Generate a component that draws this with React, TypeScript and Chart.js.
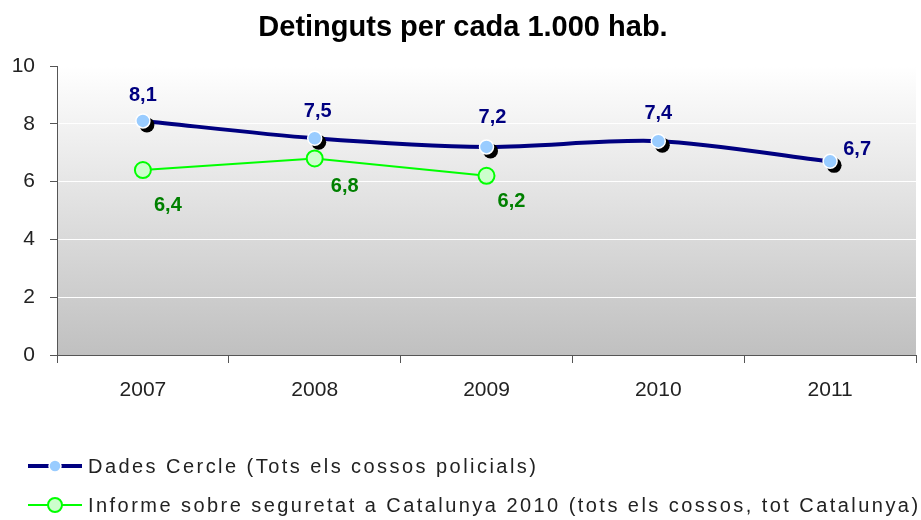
import { useEffect, useRef } from 'react';
import { Chart, registerables } from 'chart.js';
Chart.register(...registerables);

const categories = ['2007', '2008', '2009', '2010', '2011'];
const dadesCercle = [8.1, 7.5, 7.2, 7.4, 6.7];
const informeSeguretat = [6.4, 6.8, 6.2, null, null];
const yTicks = [0, 2, 4, 6, 8, 10];
const titleText = 'Detinguts per cada 1.000 hab.';
const legendLabels = [
  'Dades Cercle (Tots els cossos policials)',
  'Informe sobre seguretat a Catalunya 2010 (tots els cossos, tot Catalunya)',
];

const FONT = "'Liberation Sans', Arial, sans-serif";
const NAVY = '#000080';
const LIME = '#00ff00';

// label offsets (style): dx, dy relative to point
const blueLabelOffsets = [[0, -25], [3, -27], [6, -29], [0, -28], [27, -12]];
const greenLabelOffsets = [[25, 35], [30, 28], [25, 26]];

const fmt = (v: number) => v.toFixed(1).replace('.', ',');

const bgPlugin = {
  id: 'bgGradient',
  beforeDraw(chart: any) {
    const { ctx, chartArea: a } = chart;
    if (!a) return;
    const g = ctx.createLinearGradient(0, a.top, 0, a.bottom);
    g.addColorStop(0, '#ffffff');
    g.addColorStop(1, '#c0c0c0');
    ctx.save();
    ctx.fillStyle = g;
    ctx.fillRect(a.left, a.top, a.right - a.left, a.bottom - a.top);
    ctx.restore();
  },
};

const shadowPlugin = {
  id: 'pointShadow',
  beforeDatasetDraw(chart: any, args: any) {
    if (chart.data.datasets[args.index].isShadow) {
      chart.ctx.save();
      chart.ctx.translate(4, 4);
    }
  },
  afterDatasetDraw(chart: any, args: any) {
    if (chart.data.datasets[args.index].isShadow) {
      chart.ctx.restore();
    }
  },
};

const labelPlugin = {
  id: 'valueLabels',
  afterDatasetsDraw(chart: any) {
    const { ctx } = chart;
    const draw = (dsIndex: number, values: (number | null)[], offsets: number[][], color: string) => {
      const meta = chart.getDatasetMeta(dsIndex);
      ctx.save();
      ctx.font = `bold 20px ${FONT}`;
      ctx.fillStyle = color;
      ctx.textAlign = 'center';
      ctx.textBaseline = 'middle';
      values.forEach((v, i) => {
        if (v == null) return;
        const el = meta.data[i];
        const off = offsets[i] || [0, 0];
        ctx.fillText(fmt(v), el.x + off[0], el.y + off[1]);
      });
      ctx.restore();
    };
    draw(0, dadesCercle, blueLabelOffsets, NAVY);
    draw(3, informeSeguretat, greenLabelOffsets, '#008000');
  },
};

export default function App() {
  const ref = useRef<HTMLCanvasElement>(null);
  useEffect(() => {
    const canvas = ref.current!;
    const chart = new Chart(canvas, {
      type: 'line',
      data: {
        labels: categories,
        datasets: [
          {
            label: 'points',
            data: dadesCercle,
            showLine: false,
            pointRadius: 7,
            pointBackgroundColor: '#99ccff',
            pointBorderColor: '#ffffff',
            pointBorderWidth: 1.5,
            order: 0,
          },
          {
            label: 'shadow',
            data: dadesCercle,
            showLine: false,
            pointRadius: 7.5,
            pointBackgroundColor: '#000000',
            pointBorderColor: '#000000',
            pointBorderWidth: 0,
            order: 1,
            isShadow: true,
          } as any,
          {
            label: legendLabels[0],
            data: dadesCercle,
            borderColor: NAVY,
            borderWidth: 4,
            tension: 0.3,
            pointRadius: 0,
            order: 2,
          },
          {
            label: legendLabels[1],
            data: informeSeguretat,
            borderColor: LIME,
            borderWidth: 2,
            tension: 0,
            pointRadius: 8,
            pointBackgroundColor: '#ccffcc',
            pointBorderColor: LIME,
            pointBorderWidth: 2,
            order: 3,
          },
        ],
      },
      options: {
        animation: false,
        responsive: true,
        maintainAspectRatio: false,
        layout: { autoPadding: false, padding: { top: 66, left: 0, right: 5, bottom: 0 } },
        plugins: {
          legend: { display: false },
          title: { display: false },
          tooltip: { enabled: false },
        },
        scales: {
          x: {
            offset: true,
            grid: { offset: true, drawOnChartArea: false, tickLength: 8, tickColor: '#555555' },
            border: { color: '#555555', width: 1 },
            ticks: { color: '#222222', font: { family: FONT, size: 21 }, padding: 15 },
            afterFit: (s: any) => { s.height = 165; },
          },
          y: {
            min: 0,
            max: 10,
            afterBuildTicks: (s: any) => { s.ticks = yTicks.map((v) => ({ value: v })); },
            grid: { color: '#ffffff', tickColor: '#555555', tickLength: 7 },
            border: { color: '#555555', width: 1 },
            ticks: { color: '#222222', font: { family: FONT, size: 21 }, padding: 15 },
            afterFit: (s: any) => { s.width = 57; },
          },
        },
      } as any,
      plugins: [bgPlugin, shadowPlugin, labelPlugin],
    });
    return () => chart.destroy();
  }, []);

  const legendText: any = {
    position: 'absolute',
    left: 88,
    fontFamily: FONT,
    fontSize: 20,
    letterSpacing: '2.45px',
    color: '#222',
    lineHeight: '24px',
    whiteSpace: 'nowrap',
  };

  return (
    <div style={{ position: 'absolute', left: 0, top: 0, width: 921, height: 520, background: '#fff', overflow: 'hidden' }}>
      <canvas ref={ref} />
      <div
        style={{
          position: 'absolute',
          left: 0,
          width: 926,
          top: 12,
          textAlign: 'center',
          fontFamily: FONT,
          fontWeight: 'bold',
          fontSize: 29,
          lineHeight: '29px',
          color: '#000',
        }}
      >
        {titleText}
      </div>
      <svg style={{ position: 'absolute', left: 0, top: 450 }} width={90} height={70}>
        <line x1={28} y1={16} x2={82} y2={16} stroke={NAVY} strokeWidth={4} />
        <circle cx={55} cy={16} r={6} fill="#99ccff" stroke="#ffffff" strokeWidth={1.5} />
        <line x1={28} y1={55} x2={82} y2={55} stroke={LIME} strokeWidth={2} />
        <circle cx={55} cy={55} r={7} fill="#ccffcc" stroke={LIME} strokeWidth={2} />
      </svg>
      <div style={{ ...legendText, top: 454 }}>{legendLabels[0]}</div>
      <div style={{ ...legendText, top: 493 }}>{legendLabels[1]}</div>
    </div>
  );
}
